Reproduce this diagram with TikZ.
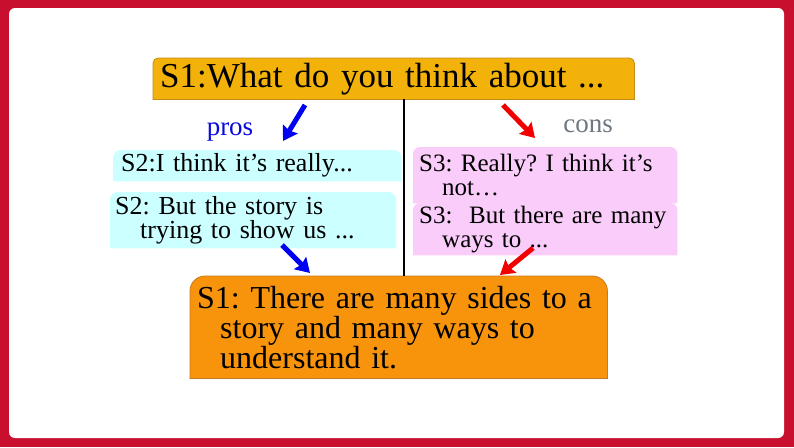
\documentclass[tikz,border=0pt]{standalone}
\usepackage{fontspec}
\setmainfont{Liberation Serif}
\usetikzlibrary{arrows.meta,backgrounds}
\definecolor{framered}{RGB}{200,16,46}
\definecolor{askfill}{RGB}{242,178,10}
\definecolor{askline}{RGB}{196,140,20}
\definecolor{profill}{RGB}{204,255,255}
\definecolor{confill}{RGB}{250,204,250}
\definecolor{sumfill}{RGB}{247,148,12}
\definecolor{sumline}{RGB}{200,120,30}
\definecolor{prosblue}{RGB}{10,10,220}
\definecolor{consgray}{RGB}{110,120,130}
\newcommand{\roundtop}[3]{\path[#1] (#2.south west) [rounded corners=#3] -- (#2.north west) -- (#2.north east) [sharp corners] -- (#2.south east) -- cycle;}
\frenchspacing

\begin{document}
\begin{tikzpicture}[x=1pt,y=-1pt,
    stepbox/.style={anchor=north west, inner xsep=7pt, inner ysep=0pt, align=left},
    midtext/.style={font=\fontsize{26}{24}\selectfont},
    context/.style={font=\fontsize{25}{24}\selectfont, inner xsep=6pt, text width=252pt},
    proarrow/.style={line width=5pt, draw=blue!95!black, -{Stealth[length=14pt,width=17pt,inset=2pt]}},
    conarrow/.style={line width=5pt, draw=red!95!black, -{Stealth[length=14pt,width=17pt,inset=2pt]}}]
%   \draw[style=help lines,step=50] (0,0) grid (794,447);
    \begin{scope}[on background layer]
      \fill[framered] (0,0) rectangle (794,447);
      \fill[white,rounded corners=6pt] (9,8) rectangle (784,438);
    \end{scope}
    \node[stepbox, text width=467pt, minimum height=41pt, font=\fontsize{35}{40}\selectfont] (ask) at (153,58) {S1:What do you think about ...};
    \node[font=\fontsize{27}{30}\selectfont, text=prosblue, anchor=base] (pros) at (230,135) {pros};
    \node[font=\fontsize{27}{30}\selectfont, text=consgray, anchor=base] (cons) at (588,132) {cons};
    \node[stepbox, midtext, inner xsep=8pt, text width=272pt, minimum height=31pt] (pro1) at (113,150) {S2:I think it’s really...};
    \node[stepbox, midtext, inner xsep=5pt, text width=276pt, minimum height=56pt] (pro2) at (110,192) {S2: But the story is\\\hspace*{25pt}trying to show us ...};
    \node[stepbox, context, minimum height=56pt] (con1) at (413,147) {S3: Really? I think it’s\\\hspace*{23pt}not…};
    \node[stepbox, context, minimum height=52pt] (con2) at (413,203) {S3:\ \ But there are many\\\hspace*{23pt}ways to ...};
    \node[stepbox, text width=403pt, minimum height=102pt, font=\fontsize{32}{30}\selectfont] (sum) at (190,276) {S1: There are many sides to a\\\hspace*{23pt}story and many ways to\\\hspace*{23pt}understand it.};
    % box fills
    \begin{scope}[on background layer]
      \roundtop{fill=askfill, draw=askline, line width=0.8pt}{ask}{5pt}
      \roundtop{fill=profill}{pro1}{8pt}
      \roundtop{fill=profill}{pro2}{8pt}
      \roundtop{fill=confill}{con1}{7pt}
      \roundtop{fill=confill}{con2}{7pt}
      \roundtop{fill=sumfill, draw=sumline, line width=0.8pt}{sum}{15pt}
    \end{scope}
    \coordinate (split) at (404,0);
    \draw[line width=1.6pt] (ask.south -| split) -- (split |- sum.north);
    \coordinate (proTail) at (305,105);
    \coordinate (proTip) at (283,141);
    \coordinate (conTail) at (503,105);
    \coordinate (conTip) at (535,138);
    \coordinate (sumLeft) at (310,273);
    \coordinate (sumRight) at (500,275);
    \draw[proarrow] (proTail) -- (proTip);
    \draw[conarrow] (conTail) -- (conTip);
    \draw[proarrow] (282,245) -- (sumLeft);
    \draw[conarrow] (533,248) -- (sumRight);
\end{tikzpicture}
\end{document}
